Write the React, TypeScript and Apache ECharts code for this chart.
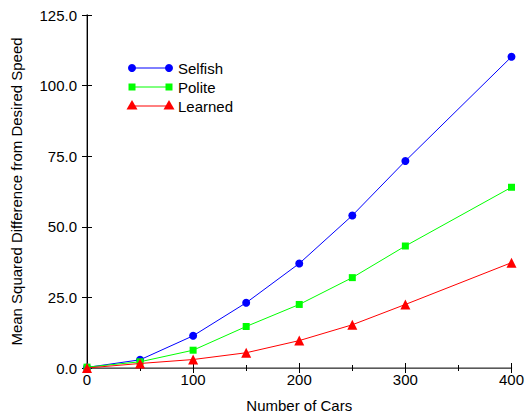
import React, { useEffect, useRef } from "react";
import * as echarts from "echarts";

const cars = [0, 50, 100, 150, 200, 250, 300, 400];
const selfish = [0.2, 2.9, 11.4, 23.1, 37.0, 54.0, 73.3, 110.2];
const polite = [0.3, 2.2, 6.3, 14.7, 22.5, 32.0, 43.2, 64.0];
const learned = [0.0, 1.6, 3.0, 5.4, 9.7, 15.3, 22.5, 37.3];
const seriesNames = ["Selfish", "Polite", "Learned"];
const seriesColors = ["#0000ff", "#00ff00", "#ff0000"];
const seriesSymbols = ["circle", "rect", "triangle"];
const seriesSizes = [8, 7, 10];

const FONT = "'Liberation Sans', Arial, Helvetica, sans-serif";

export default function App() {
  const ref = useRef<HTMLDivElement>(null);
  useEffect(() => {
    if (!ref.current) return;
    const chart = echarts.init(ref.current, undefined, { renderer: "svg" });
    const data = [selfish, polite, learned];
    const series: any[] = data.map((vals, i) => ({
      name: seriesNames[i],
      type: "line",
      data: cars.map((c, j) => [c, vals[j]]),
      symbol: seriesSymbols[i],
      symbolSize: seriesSizes[i],
      showSymbol: true,
      lineStyle: { color: seriesColors[i], width: 1 },
      itemStyle: { color: seriesColors[i] },
      z: 2 + i,
    }));
    const legendGraphics: any[] = [];
    const lx0 = 132, lx1 = 169, ly0 = 68, dy = 19;
    seriesNames.forEach((name, i) => {
      const y = ly0 + i * dy;
      const c = seriesColors[i];
      legendGraphics.push({
        type: "line",
        shape: { x1: lx0, y1: y, x2: lx1, y2: y },
        style: { stroke: c, lineWidth: 1 },
      });
      [lx0, lx1].forEach((x) => {
        if (i === 0) {
          legendGraphics.push({ type: "circle", shape: { cx: x, cy: y, r: 4 }, style: { fill: c } });
        } else if (i === 1) {
          legendGraphics.push({ type: "rect", shape: { x: x - 3.5, y: y - 3.5, width: 7, height: 7 }, style: { fill: c } });
        } else {
          legendGraphics.push({
            type: "polygon",
            shape: { points: [[x, y - 6], [x - 5.5, y + 3.5], [x + 5.5, y + 3.5]] },
            style: { fill: c },
          });
        }
      });
      legendGraphics.push({
        type: "text",
        x: 178,
        y: y,
        style: {
          text: name,
          fill: "#000",
          font: `15px ${FONT}`,
          verticalAlign: "middle",
        },
      });
    });

    const labelStyle = { color: "#000", fontSize: 15, fontFamily: FONT };
    chart.setOption({
      animation: false,
      textStyle: { fontFamily: FONT },
      grid: { left: 87, right: 15, top: 15, bottom: 43 },
      xAxis: [
        {
          type: "value",
          min: 0,
          max: 400,
          interval: 100,
          name: "Number of Cars",
          nameLocation: "middle",
          nameGap: 30,
          nameTextStyle: { ...labelStyle },
          axisLine: { show: true, lineStyle: { color: "#000", width: 1 } },
          axisTick: { show: true, inside: true, length: 5, lineStyle: { color: "#000" } },
          minorTick: { show: true, splitNumber: 2, length: 3, lineStyle: { color: "#000" } },
          axisLabel: { ...labelStyle, margin: 4 },
          splitLine: { show: false },
        },
        {
          type: "value",
          position: "top",
          min: 0,
          max: 400,
          interval: 100,
          axisLine: { show: true, lineStyle: { color: "#777", width: 1.5 } },
          axisTick: { show: true, inside: true, length: 5, lineStyle: { color: "#000" } },
          minorTick: { show: true, splitNumber: 2, length: 3, lineStyle: { color: "#000" } },
          axisLabel: { show: false },
          splitLine: { show: false },
        },
      ],
      yAxis: [
        {
          type: "value",
          min: 0,
          max: 125,
          interval: 25,
          name: "Mean Squared Difference from Desired Speed",
          nameLocation: "middle",
          nameGap: 63,
          nameTextStyle: { ...labelStyle },
          axisLine: { show: true, lineStyle: { color: "#777", width: 1.5 } },
          axisTick: { show: true, inside: true, length: 5, lineStyle: { color: "#000" } },
          axisLabel: { ...labelStyle, margin: 10, formatter: (v: number) => v.toFixed(1) },
          splitLine: { show: false },
        },
        {
          type: "value",
          position: "right",
          min: 0,
          max: 125,
          interval: 25,
          axisLine: { show: true, lineStyle: { color: "#000", width: 1 } },
          axisTick: { show: true, inside: true, length: 5, lineStyle: { color: "#000" } },
          axisLabel: { show: false },
          splitLine: { show: false },
        },
      ],
      series,
      graphic: legendGraphics,
    });
    return () => chart.dispose();
  }, []);
  return (
    <div
      ref={ref}
      style={{ position: "absolute", left: 0, top: 0, width: 527, height: 418 }}
    />
  );
}
